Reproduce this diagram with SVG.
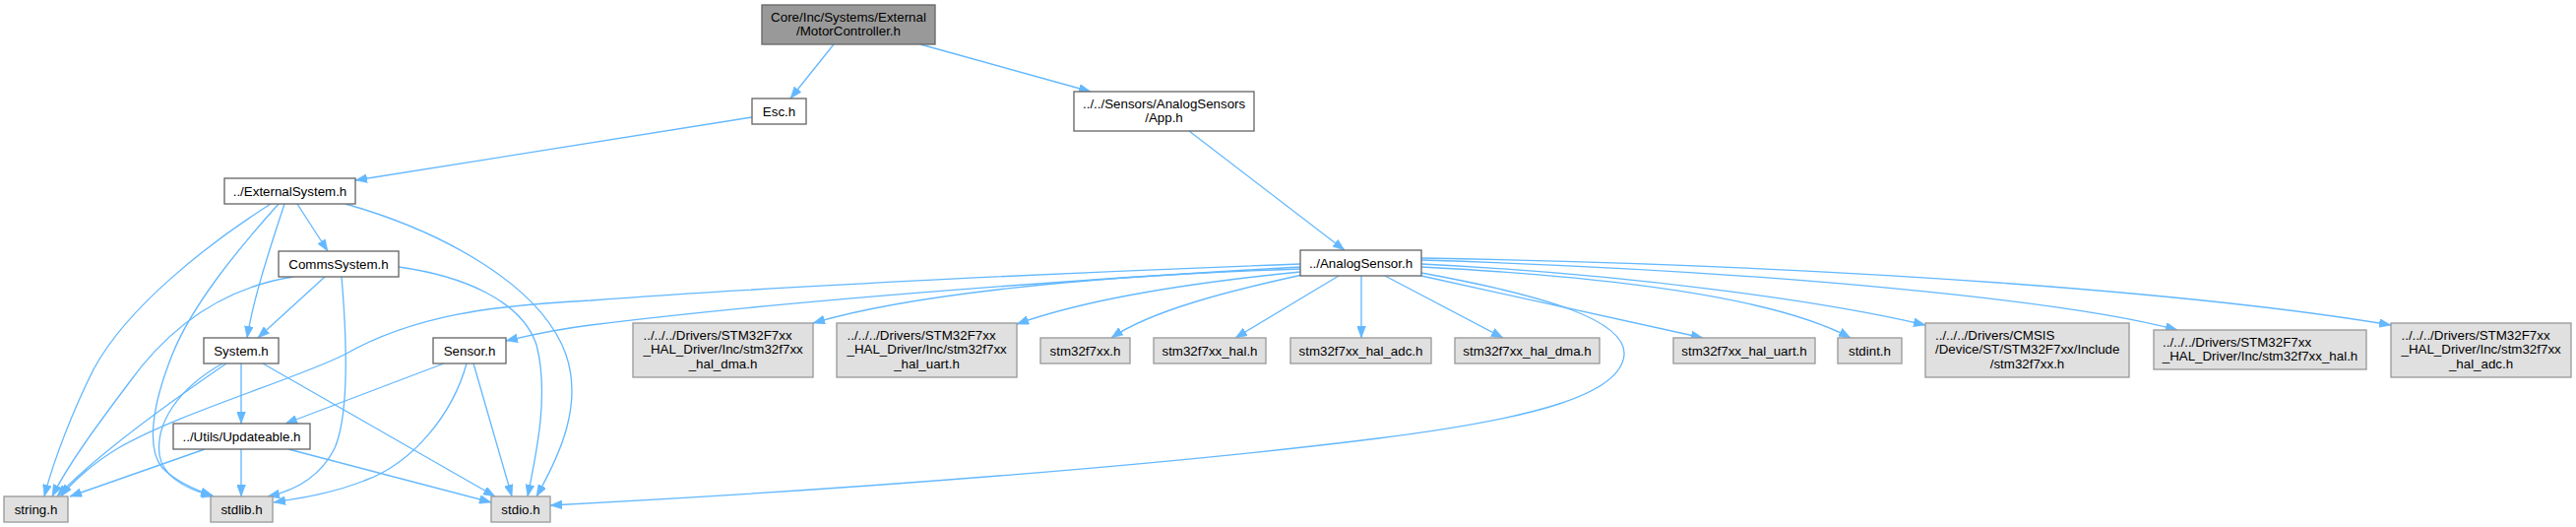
<svg xmlns="http://www.w3.org/2000/svg" width="2617" height="535" viewBox="0 0 2617 535">
<style>
  text { font-family: "Liberation Sans", Arial, Helvetica, sans-serif; font-size: 13.33px; fill: #000; }
  .c { text-anchor: middle; }
  .s { text-anchor: start; }
  .node rect { stroke-width: 1.33; }
  .root rect { fill: #999999; stroke: #666666; }
  .proj rect { fill: #ffffff; stroke: #666666; }
  .ext rect { fill: #e0e0e0; stroke: #999999; }
  #edges path { fill: none; stroke: #63b8ff; stroke-width: 1.33; marker-end: url(#arrow); }
</style>
<defs>
  <marker id="arrow" markerUnits="userSpaceOnUse" markerWidth="12" markerHeight="9" refX="12" refY="4.5" orient="auto" viewBox="0 0 12 9">
    <path d="M0,0 L12,4.5 L0,9 z" fill="#63b8ff" stroke="#63b8ff" stroke-width="0.5"/>
  </marker>
</defs>
<rect x="0" y="0" width="2617" height="535" fill="#ffffff"/>

<g id="edges">
  <path d="M847,45 L803,100"/>
  <path d="M935,45 L1108,93"/>
  <path d="M764,119 L361,183"/>
  <path d="M1208,133 L1366,254"/>
  <path d="M302,207 L333,255"/>
  <path d="M289,207 C275,250 258,300 251,343"/>
  <path d="M275,207 C215,245 130,310 95,375 C75,415 55,465 45,504"/>
  <path d="M283,207 C240,255 195,310 175,360 C155,410 148,455 165,475 C180,490 200,498 216,503"/>
  <path d="M351,207 C450,235 550,290 575,360 C592,410 570,460 545,504"/>
  <path d="M330,281 L262,343"/>
  <path d="M298,281 C240,290 180,320 130,390 C100,430 70,470 53,504"/>
  <path d="M347,281 C352,340 355,420 340,455 C325,485 300,498 272,504"/>
  <path d="M405,271 C470,280 530,305 545,350 C558,400 545,460 536,504"/>
  <path d="M245,369 L245,430"/>
  <path d="M230,369 C170,410 100,460 58,504"/>
  <path d="M226,369 C180,395 158,430 162,462 C166,485 190,497 217,504"/>
  <path d="M267,369 L503,504"/>
  <path d="M208,456 L71,504"/>
  <path d="M245,456 L245,504"/>
  <path d="M293,456 L499,510"/>
  <path d="M451,369 L290,430"/>
  <path d="M474,369 C460,420 420,470 370,488 C340,500 310,505 278,510"/>
  <path d="M481,369 L520,504"/>
  <path d="M1321,271 C1100,283 800,305 600,330 C560,335 540,340 514,346"/>
  <path d="M1321,268 C1100,276 800,290 600,305 C500,310 420,320 350,360 C300,385 180,420 120,455 C95,470 72,490 62,504"/>
  <path d="M1444,277 C1570,300 1652,325 1650,360 C1647,400 1560,425 1400,445 C1200,470 900,495 559,513"/>
  <path d="M1321,273 C1100,280 920,300 826,328"/>
  <path d="M1321,276 C1200,288 1100,305 1033,329"/>
  <path d="M1323,279 C1250,295 1170,315 1129,343"/>
  <path d="M1360,280 L1255,343"/>
  <path d="M1383,280 L1383,343"/>
  <path d="M1407,280 L1527,343"/>
  <path d="M1444,280 L1730,343"/>
  <path d="M1444,271 C1620,280 1800,300 1880,343"/>
  <path d="M1444,268 C1650,278 1850,305 1956,330"/>
  <path d="M1444,264 C1800,275 2100,305 2212,335"/>
  <path d="M1444,262 C1900,270 2250,300 2429,330"/>
</g>

<g id="node-motorcontroller" class="node root">
  <rect x="774" y="5" width="176" height="40"/>
  <text class="c" x="862" y="21.5">Core/Inc/Systems/External</text>
  <text class="c" x="862" y="36">/MotorController.h</text>
</g>
<g id="node-esc" class="node proj">
  <rect x="764" y="100" width="55" height="26"/>
  <text class="c" x="791.5" y="117.5">Esc.h</text>
</g>
<g id="node-app" class="node proj">
  <rect x="1091" y="93" width="183" height="40"/>
  <text class="s" x="1100" y="109.5">../../Sensors/AnalogSensors</text>
  <text class="c" x="1182.5" y="124">/App.h</text>
</g>
<g id="node-externalsystem" class="node proj">
  <rect x="228" y="181" width="133" height="26"/>
  <text class="c" x="294.5" y="198.5">../ExternalSystem.h</text>
</g>
<g id="node-commssystem" class="node proj">
  <rect x="283" y="255" width="122" height="26"/>
  <text class="c" x="344" y="272.5">CommsSystem.h</text>
</g>
<g id="node-system" class="node proj">
  <rect x="207" y="343" width="76" height="26"/>
  <text class="c" x="245" y="360.5">System.h</text>
</g>
<g id="node-updateable" class="node proj">
  <rect x="176" y="430" width="139" height="26"/>
  <text class="c" x="245.5" y="447.5">../Utils/Updateable.h</text>
</g>
<g id="node-sensor" class="node proj">
  <rect x="440" y="343" width="74" height="26"/>
  <text class="c" x="477" y="360.5">Sensor.h</text>
</g>
<g id="node-analogsensor" class="node proj">
  <rect x="1321" y="254" width="123" height="26"/>
  <text class="c" x="1382.5" y="271.5">../AnalogSensor.h</text>
</g>
<g id="node-string" class="node ext">
  <rect x="4" y="504" width="65" height="26"/>
  <text class="c" x="36.5" y="521.5">string.h</text>
</g>
<g id="node-stdlib" class="node ext">
  <rect x="214" y="504" width="63" height="26"/>
  <text class="c" x="245.5" y="521.5">stdlib.h</text>
</g>
<g id="node-stdio" class="node ext">
  <rect x="499" y="504" width="60" height="26"/>
  <text class="c" x="529" y="521.5">stdio.h</text>
</g>
<g id="node-drv-hal-dma" class="node ext">
  <rect x="643" y="328" width="183" height="55"/>
  <text class="s" x="653.5" y="344.5">../../../Drivers/STM32F7xx</text>
  <text class="s" x="653.5" y="359">_HAL_Driver/Inc/stm32f7xx</text>
  <text class="c" x="734.5" y="373.5">_hal_dma.h</text>
</g>
<g id="node-drv-hal-uart" class="node ext">
  <rect x="850" y="328" width="183" height="55"/>
  <text class="s" x="860.5" y="344.5">../../../Drivers/STM32F7xx</text>
  <text class="s" x="860.5" y="359">_HAL_Driver/Inc/stm32f7xx</text>
  <text class="c" x="941.5" y="373.5">_hal_uart.h</text>
</g>
<g id="node-stm32f7xx" class="node ext">
  <rect x="1057" y="343" width="91" height="26"/>
  <text class="c" x="1102.5" y="360.5">stm32f7xx.h</text>
</g>
<g id="node-stm32f7xx-hal" class="node ext">
  <rect x="1172" y="343" width="114" height="26"/>
  <text class="c" x="1229" y="360.5">stm32f7xx_hal.h</text>
</g>
<g id="node-stm32f7xx-hal-adc" class="node ext">
  <rect x="1311" y="343" width="143" height="26"/>
  <text class="c" x="1382.5" y="360.5">stm32f7xx_hal_adc.h</text>
</g>
<g id="node-stm32f7xx-hal-dma" class="node ext">
  <rect x="1478" y="343" width="147" height="26"/>
  <text class="c" x="1551.5" y="360.5">stm32f7xx_hal_dma.h</text>
</g>
<g id="node-stm32f7xx-hal-uart" class="node ext">
  <rect x="1700" y="343" width="144" height="26"/>
  <text class="c" x="1772" y="360.5">stm32f7xx_hal_uart.h</text>
</g>
<g id="node-stdint" class="node ext">
  <rect x="1867" y="343" width="65" height="26"/>
  <text class="c" x="1899.5" y="360.5">stdint.h</text>
</g>
<g id="node-cmsis" class="node ext">
  <rect x="1956" y="328" width="207" height="55"/>
  <text class="s" x="1966" y="344.5">../../../Drivers/CMSIS</text>
  <text class="s" x="1966" y="359">/Device/ST/STM32F7xx/Include</text>
  <text class="c" x="2059.5" y="373.5">/stm32f7xx.h</text>
</g>
<g id="node-drv-hal" class="node ext">
  <rect x="2188" y="335" width="216" height="40"/>
  <text class="s" x="2197" y="351.5">../../../Drivers/STM32F7xx</text>
  <text class="c" x="2296" y="366">_HAL_Driver/Inc/stm32f7xx_hal.h</text>
</g>
<g id="node-drv-hal-adc" class="node ext">
  <rect x="2429" y="328" width="183" height="55"/>
  <text class="s" x="2439.5" y="344.5">../../../Drivers/STM32F7xx</text>
  <text class="s" x="2439.5" y="359">_HAL_Driver/Inc/stm32f7xx</text>
  <text class="c" x="2520.5" y="373.5">_hal_adc.h</text>
</g>
</svg>
